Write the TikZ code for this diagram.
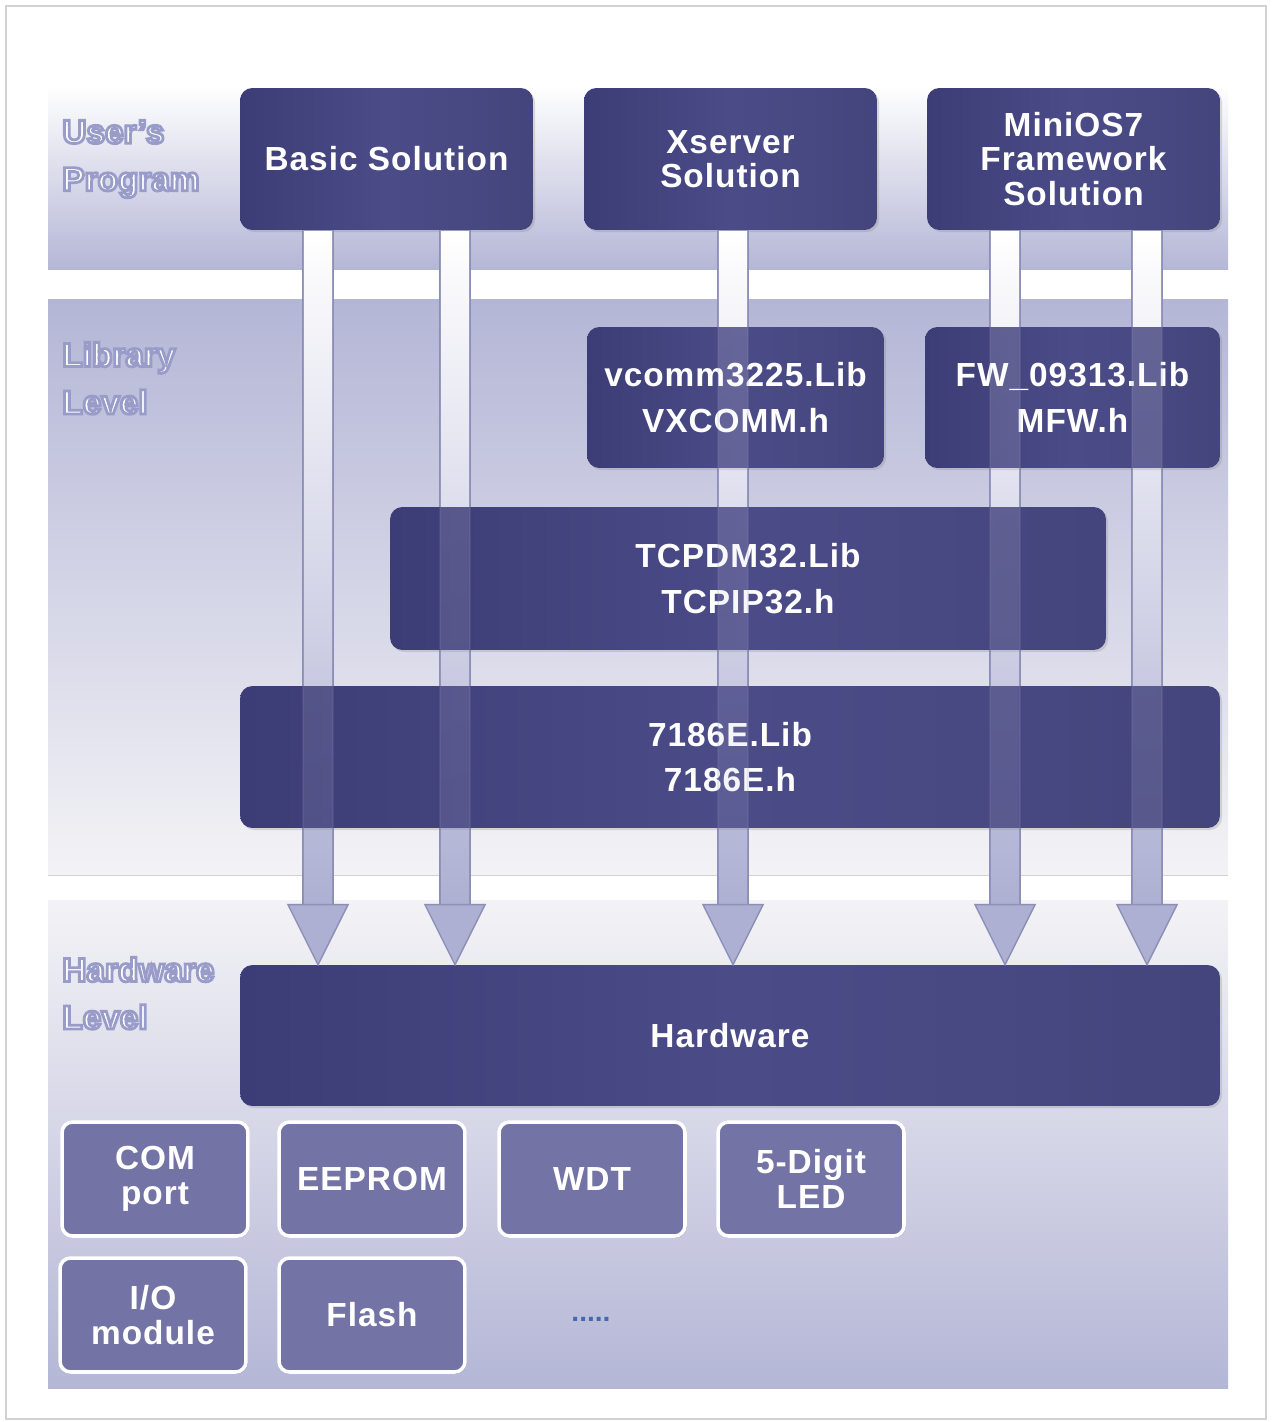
\documentclass[tikz,border=0pt]{standalone}
\usepackage{fontspec}
\setmainfont{Liberation Sans}
\newfontfamily\boxfont[LetterSpace=3]{Liberation Sans}
\usetikzlibrary{calc}
\usetikzlibrary{shadows}

\definecolor{navyL}{HTML}{4B4B88}
\definecolor{navyD}{HTML}{3C3C76}
\definecolor{lav}{HTML}{B4B6D6}
\definecolor{lavlight}{HTML}{F3F3F6}
\definecolor{chip}{HTML}{7373A5}
\definecolor{arrowc}{HTML}{AEB0D3}
\definecolor{arrowedge}{HTML}{8C8EB6}
\definecolor{dotblue}{HTML}{4668B0}

\tikzset{
  darkbox/.style={rounded corners=7pt, left color=navyD, right color=navyL!92!black, middle color=navyL,
    text=white, font=\boxfont\bfseries\fontsize{19}{19.5}\selectfont, align=center, inner sep=0pt,
    drop shadow={opacity=0.25, shadow xshift=1.2pt, shadow yshift=-1.2pt}},
  libbox/.style={darkbox, font=\boxfont\bfseries\fontsize{19}{26}\selectfont},
  chipbox/.style={rounded corners=6pt, fill=chip, draw=white, line width=2pt, text=white,
    font=\boxfont\bfseries\fontsize{19}{20}\selectfont, align=center, inner sep=0pt,
    minimum width=3.72cm, minimum height=2.28cm,
    drop shadow={opacity=0.2, shadow xshift=1pt, shadow yshift=-1pt}},
  levellabel/.style={text=white, font=\bfseries\fontsize{19}{27}\selectfont, align=left, anchor=north west, inner sep=0pt},
  arrowshaft/.style={top color=white, bottom color=arrowc, draw=arrowedge, line width=0.8pt},
  arrowhead/.style={fill=arrowc, draw=arrowedge, line width=0.8pt}
}
% outlined level text: white fill, lavender stroke
\newcommand\lvl[1]{\special{pdf:literal direct 2 Tr 1.6 w 0.60 0.61 0.79 RG}#1\special{pdf:literal direct 0 Tr 0.4 w 1 1 1 RG}}
% big arrow: #1 column coordinate, #2 source node, #3 target node
\newcommand\bigarrow[3]{%
  \path[arrowshaft] ($(#1|-#2.south)+(-15,0)$) rectangle ($(#1|-#3.north)+(15,-60)$);
  \path[arrowhead] ($(#1|-#3.north)+(-30,-60)$) -- (#1|-#3.north) -- ($(#1|-#3.north)+(30,-60)$) -- cycle;
}

\begin{document}
\begin{tikzpicture}[x=0.02cm, y=-0.02cm]
			\useasboundingbox (0,0) rectangle (1271,1422);
			\fill[white] (0,0) rectangle (1271,1422);
			\draw[gray!35, line width=1pt] (6,6) rectangle (1266,1419);
			% bands
			\fill[top color=white, bottom color=lav] (48,85) rectangle (1228,270);
			\fill[top color=lav, bottom color=lavlight] (48,300) rectangle (1228,875);
			\draw[gray!35] (48,875) -- (1228,875);
			\fill[top color=lavlight, bottom color=lav] (48,900) rectangle (1228,1388);
			% level labels
			\node[levellabel] (lu) at (62,120) {\lvl{User's}\\\lvl{Program}};
			\node[levellabel] (ll) at (62,342) {\lvl{Library}\\\lvl{Level}};
			\node[levellabel] (lh) at (62,957) {\lvl{Hardware}\\\lvl{Level}};
			% arrow columns
			\coordinate (c1) at (318,0);
			\coordinate (c2) at (455,0);
			\coordinate (c3) at (733,0);
			\coordinate (c4) at (1005,0);
			\coordinate (c5) at (1147,0);
			% boxes
			\node[darkbox, minimum width=5.86cm, minimum height=2.84cm] (basic) at (386.5,159) {Basic Solution};
			\node[darkbox, minimum width=5.86cm, minimum height=2.84cm] (xs) at (730.5,159) {Xserver\\Solution};
			\node[darkbox, minimum width=5.86cm, minimum height=2.84cm] (mos) at (1073.5,159) {MiniOS7\\Framework\\Solution};
			\node[darkbox, minimum width=19.6cm, minimum height=2.82cm] (hw) at (730,1035.5) {Hardware};
			\bigarrow{c1}{basic}{hw}
			\bigarrow{c2}{basic}{hw}
			\bigarrow{c3}{xs}{hw}
			\bigarrow{c4}{mos}{hw}
			\bigarrow{c5}{mos}{hw}
			\node[libbox, minimum width=5.94cm, minimum height=2.82cm] (vx) at (735.5,397.5) {vcomm3225.Lib\\VXCOMM.h};
			\node[libbox, minimum width=5.9cm, minimum height=2.82cm] (fw) at (1072.5,397.5) {FW\_09313.Lib\\MFW.h};
			\node[libbox, minimum width=14.32cm, minimum height=2.86cm] (tcp) at (748,578.5) {TCPDM32.Lib\\TCPIP32.h};
			\node[libbox, minimum width=19.6cm, minimum height=2.84cm] (lib7186) at (730,757) {7186E.Lib\\7186E.h};
			\begin{scope}[opacity=0.16]
			\bigarrow{c1}{basic}{hw}
			\bigarrow{c2}{basic}{hw}
			\bigarrow{c3}{xs}{hw}
			\bigarrow{c4}{mos}{hw}
			\bigarrow{c5}{mos}{hw}
			\end{scope}
			% hardware parts
			\node[chipbox] (com) at (155,1179) {COM\\port};
			\node[chipbox] (eep) at (372,1179) {EEPROM};
			\node[chipbox] (wdt) at (592,1179) {WDT};
			\node[chipbox] (led) at (811,1179) {5-Digit\\LED};
			\node[chipbox] (io) at (153,1315) {I/O\\module};
			\node[chipbox] (fl) at (372,1315) {Flash};
			\node[text=dotblue, font=\bfseries\fontsize{16}{16}\selectfont] (more) at (591,1319) {.....};
		\end{tikzpicture}
\end{document}
